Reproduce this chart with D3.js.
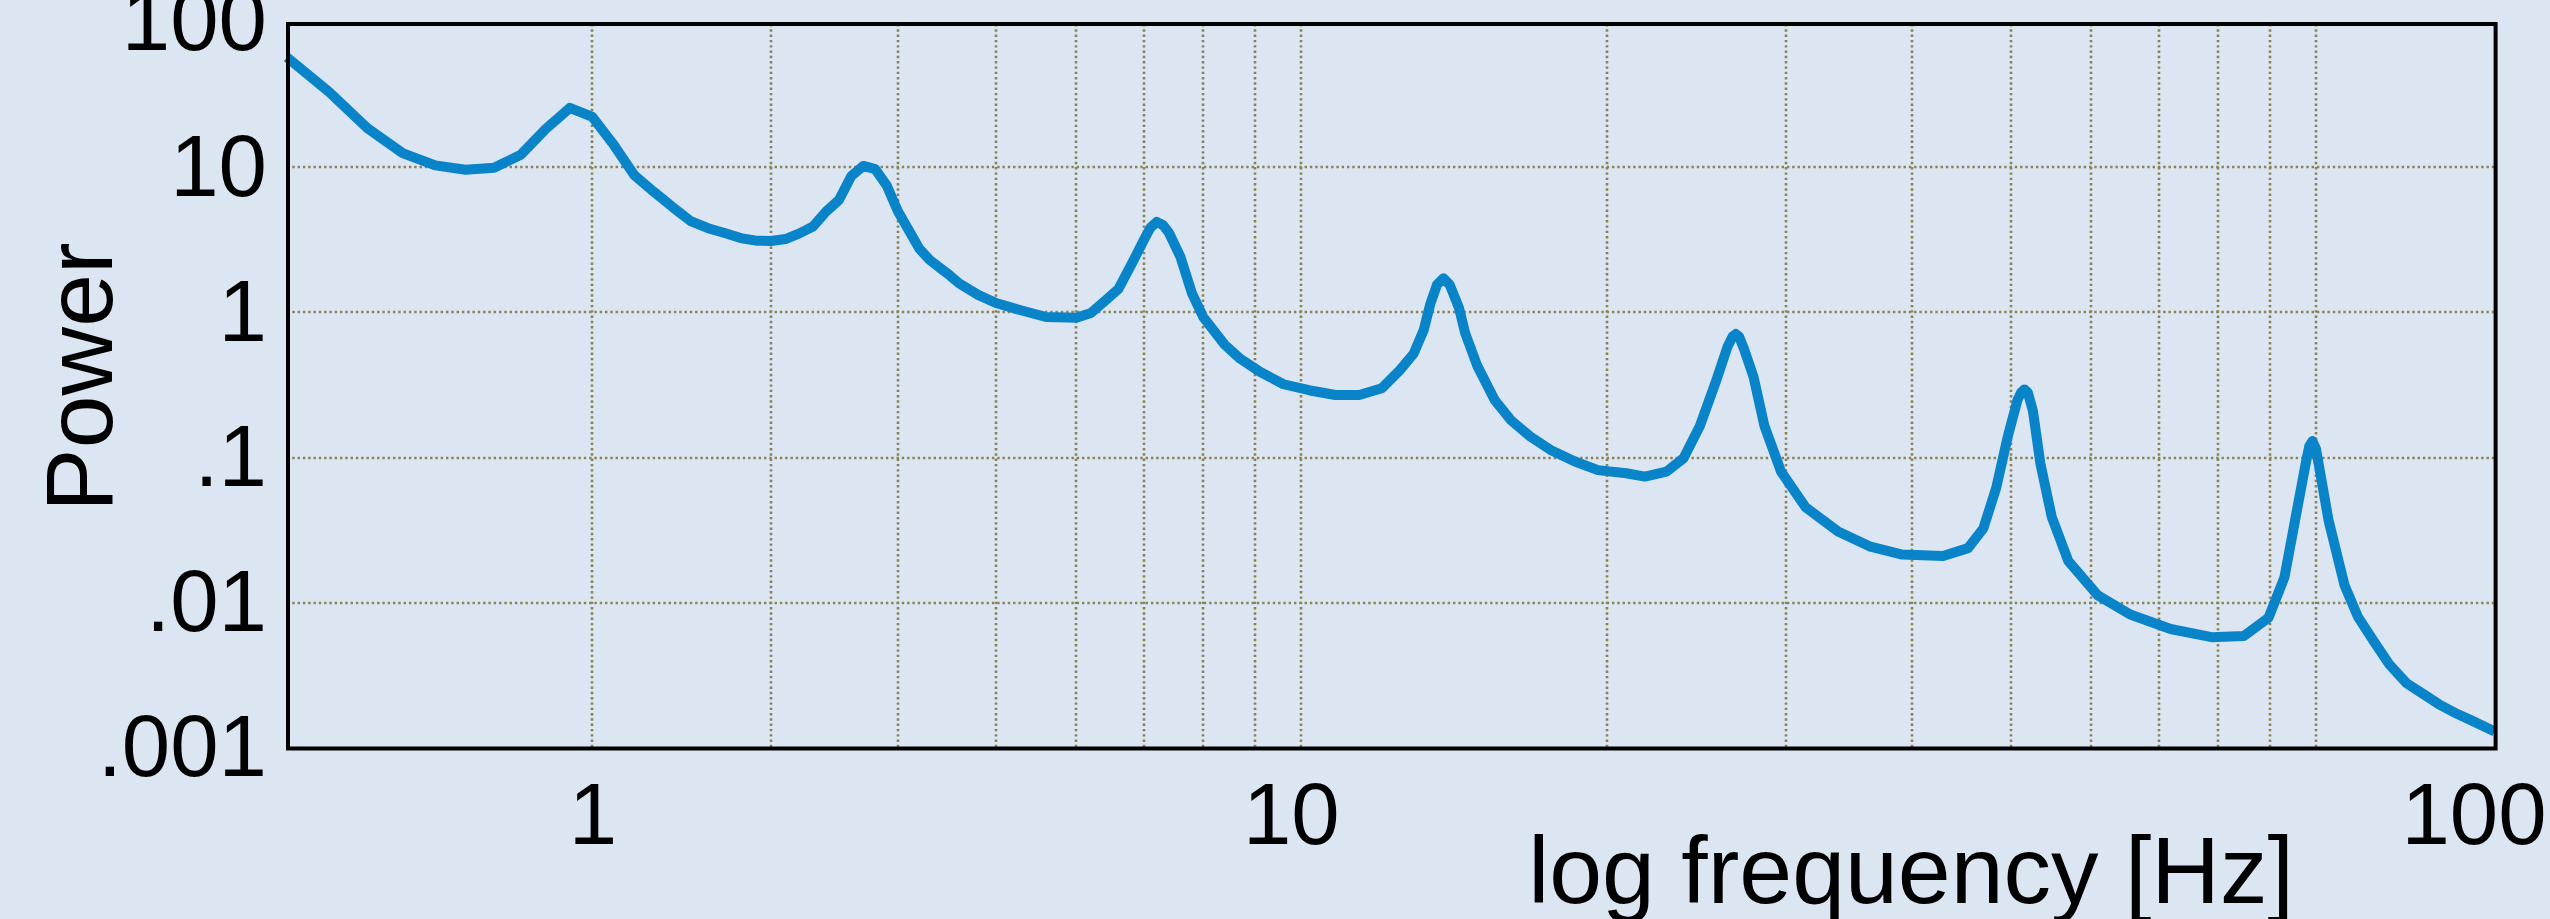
<!DOCTYPE html>
<html>
<head>
<meta charset="utf-8">
<script src="https://cdn.jsdelivr.net/npm/d3@7"></script>
<style>
  html, body { margin: 0; padding: 0; background: #dce6f2; }
  svg { display: block; }
  text { font-family: "Liberation Sans", Arial, sans-serif; fill: #000; }
</style>
</head>
<body>
<svg id="chart" width="2550" height="919"></svg>
<script>
// Power spectrum samples: frequency in Hz and power (log-log plot)
const freqHz = [
  1.0, 1.1, 1.2, 1.3, 1.4, 1.5, 1.6, 1.7, 1.8, 1.9,
  2.0, 2.1, 2.2, 2.3, 2.4, 2.5, 2.6, 2.7, 2.8, 2.9,
  3.0, 3.1, 3.2, 3.3, 3.4, 3.5, 3.6, 3.7, 3.8, 3.9,
  4.0, 4.1, 4.2, 4.3, 4.4, 4.5, 4.6, 4.8, 5.0, 5.3,
  5.6, 6.0, 6.2, 6.4, 6.6, 6.8, 7.0, 7.1, 7.2, 7.3,
  7.4, 7.6, 7.8, 8.0, 8.4, 8.7, 9.1, 9.6, 10.2, 10.8,
  11.4, 12.0, 12.5, 12.9, 13.2, 13.4, 13.6, 13.8, 14.0, 14.3,
  14.5, 14.9, 15.5, 16.1, 16.8, 17.6, 18.6, 19.6, 20.9, 21.8,
  22.9, 23.8, 24.7, 25.6, 26.3, 26.6, 26.8, 27.0, 27.3, 27.9,
  28.6, 29.7, 31.4, 33.8, 36.3, 39.1, 42.9, 45.4, 47.0, 48.4,
  49.7, 50.8, 51.2, 51.6, 52.0, 52.6, 53.5, 54.9, 57.0, 60.9,
  65.6, 71.9, 78.9, 84.9, 89.8, 93.1, 95.5, 97.7, 98.5, 99.2,
  100.0, 100.6, 102.9, 106.7, 110.0, 114.1, 118.0, 122.8, 127.0, 132.2,
  137.0, 142.3, 150.0
];
const power = [
  57, 33, 18.6, 12.5, 10.3, 9.6, 9.9, 12.2, 18.4, 25.6,
  22.2, 14.2, 8.8, 6.75, 5.3, 4.25, 3.8, 3.52, 3.25, 3.12,
  3.1, 3.2, 3.5, 3.9, 4.95, 5.95, 8.7, 10.2, 9.7, 7.5,
  5.0, 3.7, 2.75, 2.3, 2.03, 1.8, 1.58, 1.32, 1.16, 1.03,
  0.93, 0.92, 0.99, 1.2, 1.45, 2.15, 3.2, 3.85, 4.2, 4.0,
  3.55, 2.4, 1.35, 0.93, 0.60, 0.48, 0.39, 0.32, 0.29, 0.27,
  0.27, 0.30, 0.40, 0.52, 0.76, 1.15, 1.55, 1.72, 1.55, 1.07,
  0.72, 0.43, 0.25, 0.18, 0.14, 0.113, 0.094, 0.082, 0.078, 0.074,
  0.080, 0.099, 0.165, 0.33, 0.58, 0.68, 0.71, 0.68, 0.56, 0.36,
  0.165, 0.080, 0.0455, 0.031, 0.0245, 0.0215, 0.021, 0.0238, 0.0325, 0.062,
  0.141, 0.25, 0.28, 0.295, 0.28, 0.21, 0.091, 0.039, 0.0194, 0.0113,
  0.0083, 0.0066, 0.0058, 0.0059, 0.0079, 0.015, 0.039, 0.091, 0.12, 0.13,
  0.115, 0.091, 0.037, 0.0132, 0.0080, 0.0054, 0.0038, 0.0028, 0.0024, 0.0020,
  0.00175, 0.00155, 0.0013
];

// Axis ticks and grid
const xGridHz = [2, 3, 4, 5, 6, 7, 8, 9, 10, 20, 30, 40, 50, 60, 70, 80, 90, 100];
const yGridPower = [10, 1, 0.1, 0.01];
const yTickValues = [100, 10, 1, 0.1, 0.01, 0.001];
const yTickLabels = ["100", "10", "1", ".1", ".01", ".001"];
const xTickLabels = ["1", "10", "100"];
const xTickAtHz = [2, 9.76, 143];

const svg = d3.select("#chart");
const W = 2550, H = 919;
const plot = { left: 287, right: 2494.6, top: 22, bottom: 748 };

svg.append("rect").attr("width", W).attr("height", H).attr("fill", "#dce6f2");

const x = d3.scaleLog().domain([1, 150]).range([plot.left, plot.right]);
const y = d3.scaleLog().domain([0.001, 100]).range([plot.bottom, plot.top]);

const frameTop = 24, frameBottom = 748.5;

// dotted grid
const grid = svg.append("g")
  .attr("stroke", "#8a8250")
  .attr("stroke-width", 2.6)
  .attr("stroke-dasharray", "2.4,2.9");

grid.selectAll("line.v").data(xGridHz).join("line")
  .attr("class", "v")
  .attr("x1", d => Math.round(x(d))).attr("x2", d => Math.round(x(d)))
  .attr("y1", frameTop).attr("y2", frameBottom);

grid.selectAll("line.h").data(yGridPower).join("line")
  .attr("class", "h")
  .attr("x1", plot.left).attr("x2", plot.right)
  .attr("y1", d => Math.round(y(d))).attr("y2", d => Math.round(y(d)));

// spectrum line
const series = freqHz.map((f, i) => [f, power[i]]);
const line = d3.line().x(d => x(d[0])).y(d => y(d[1])).curve(d3.curveLinear);
svg.append("path")
  .datum(series)
  .attr("d", line)
  .attr("fill", "none")
  .attr("stroke", "#0a84c8")
  .attr("stroke-width", 10)
  .attr("stroke-linejoin", "round")
  .attr("stroke-linecap", "butt");

// frame
svg.append("rect")
  .attr("x", plot.left + 1).attr("y", frameTop)
  .attr("width", plot.right - plot.left).attr("height", frameBottom - frameTop)
  .attr("fill", "none")
  .attr("stroke", "#000")
  .attr("stroke-width", 4);

// y axis labels
const yAxis = d3.axisLeft(y)
  .tickValues(yTickValues)
  .tickFormat((d, i) => yTickLabels[i])
  .tickSize(0)
  .tickPadding(20);
const gy = svg.append("g").attr("transform", `translate(${plot.left},0)`).call(yAxis);
gy.select(".domain").remove();
gy.selectAll("text")
  .style("font-family", "'Liberation Sans', Arial, sans-serif")
  .style("font-size", "87px")
  .attr("fill", "#000");

// x axis labels
const xAxis = d3.axisBottom(x)
  .tickValues(xTickAtHz)
  .tickFormat((d, i) => xTickLabels[i])
  .tickSize(0)
  .tickPadding(34);
const gx = svg.append("g").attr("transform", `translate(0,${frameBottom})`).call(xAxis);
gx.select(".domain").remove();
gx.selectAll("text")
  .style("font-family", "'Liberation Sans', Arial, sans-serif")
  .style("font-size", "87px")
  .attr("fill", "#000");

// axis titles
svg.append("text")
  .attr("transform", "translate(112,377) rotate(-90)")
  .attr("text-anchor", "middle")
  .style("font-size", "95px")
  .text("Power");

svg.append("text")
  .attr("x", 1911).attr("y", 903)
  .attr("text-anchor", "middle")
  .style("font-size", "95px")
  .text("log frequency [Hz]");
</script>
</body>
</html>
